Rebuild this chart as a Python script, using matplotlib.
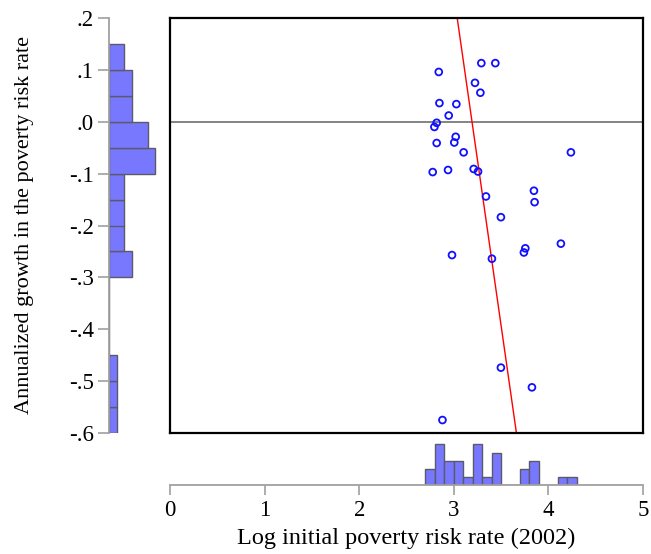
import numpy as np
import matplotlib
matplotlib.use('Agg')
import matplotlib.pyplot as plt

# log initial poverty risk rate (2002) and annualized growth
log_rate = [3.291, 3.439, 2.841, 3.224, 3.281, 2.848, 3.027, 2.946, 2.819, 2.795,
            3.020, 3.005, 2.819, 3.104, 4.238, 2.777, 2.939, 3.210, 3.256, 3.340,
            3.847, 3.854, 3.498, 4.132, 3.756, 3.741, 2.981, 3.403, 3.498, 3.826,
            2.880]
growth = [0.113, 0.113, 0.096, 0.075, 0.056, 0.036, 0.034, 0.012, -0.002, -0.010,
          -0.029, -0.040, -0.041, -0.059, -0.059, -0.097, -0.093, -0.091, -0.096, -0.144,
          -0.133, -0.155, -0.184, -0.235, -0.244, -0.252, -0.257, -0.264, -0.474, -0.512,
          -0.575]

# fitted line (as drawn in the figure)
fit_intercept = 4.08
fit_slope = -1.278

x_bins = np.round(np.arange(2.7, 4.31, 0.1), 2)
y_bins = np.round(np.arange(-0.6, 0.151, 0.05), 2)

x_ticks = [0, 1, 2, 3, 4, 5]
y_ticks = [0.2, 0.1, 0.0, -0.1, -0.2, -0.3, -0.4, -0.5, -0.6]
y_ticklabels = ['.2', '.1', '.0', '-.1', '-.2', '-.3', '-.4', '-.5', '-.6']

plt.rcParams['font.family'] = ['Liberation Serif', 'DejaVu Serif']

W, H = 651, 554
fig = plt.figure(figsize=(W / 100, H / 100), dpi=100)

bar_fc = '#7878ff'
bar_ec = '#5a5a6a'
axis_c = '#a0a0a0'

# main scatter panel
ax = fig.add_axes([170 / W, 1 - 433 / H, 473 / W, 415 / H])
ax.scatter(log_rate, growth, s=24, facecolors='none', edgecolors='#1010ff', linewidths=1.3, zorder=3)
xx = np.array([0, 5])
ax.plot(xx, fit_intercept + fit_slope * xx, color='#ff0000', lw=1.0, zorder=2)
ax.axhline(0, color='#7a7a7a', lw=1.3, zorder=1)
ax.set_xlim(0, 5)
ax.set_ylim(-0.6, 0.2)
ax.set_xticks([])
ax.set_yticks([])
for s in ax.spines.values():
    s.set_linewidth(1.6)
    s.set_color('black')

# left marginal histogram of growth
axl = fig.add_axes([109 / W, 1 - 433 / H, 56 / W, 415 / H])
axl.hist(growth, bins=y_bins, orientation='horizontal', color=bar_fc, edgecolor=bar_ec, linewidth=1.0)
axl.set_ylim(-0.6, 0.2)
axl.set_xlim(0, 7.27)
axl.set_yticks(y_ticks)
axl.set_yticklabels(y_ticklabels, fontsize=16.5)
axl.set_xticks([])
for k in ['top', 'right', 'bottom']:
    axl.spines[k].set_visible(False)
axl.spines['left'].set_color(axis_c)
axl.spines['left'].set_linewidth(1.3)
axl.tick_params(axis='y', length=8, width=1.2, color=axis_c, pad=3)
axl.set_ylabel('Annualized growth in the poverty risk rate', fontsize=16, labelpad=25)
axl.patch.set_alpha(0)

# bottom marginal histogram of log rate
axb = fig.add_axes([170 / W, 1 - 485 / H, 473 / W, 45 / H])
axb.hist(log_rate, bins=x_bins, color=bar_fc, edgecolor=bar_ec, linewidth=1.0)
axb.set_xlim(0, 5)
axb.set_ylim(0, 5.55)
axb.set_xticks(x_ticks)
axb.set_xticklabels([str(t) for t in x_ticks], fontsize=16.5)
axb.set_yticks([])
for k in ['top', 'right', 'left']:
    axb.spines[k].set_visible(False)
axb.spines['bottom'].set_color(axis_c)
axb.spines['bottom'].set_linewidth(1.3)
axb.tick_params(axis='x', length=7, width=1.2, color=axis_c, pad=4)
axb.set_xlabel('Log initial poverty risk rate (2002)', fontsize=17.5, labelpad=5)
axb.patch.set_alpha(0)

fig.savefig('out.png', dpi=100)
